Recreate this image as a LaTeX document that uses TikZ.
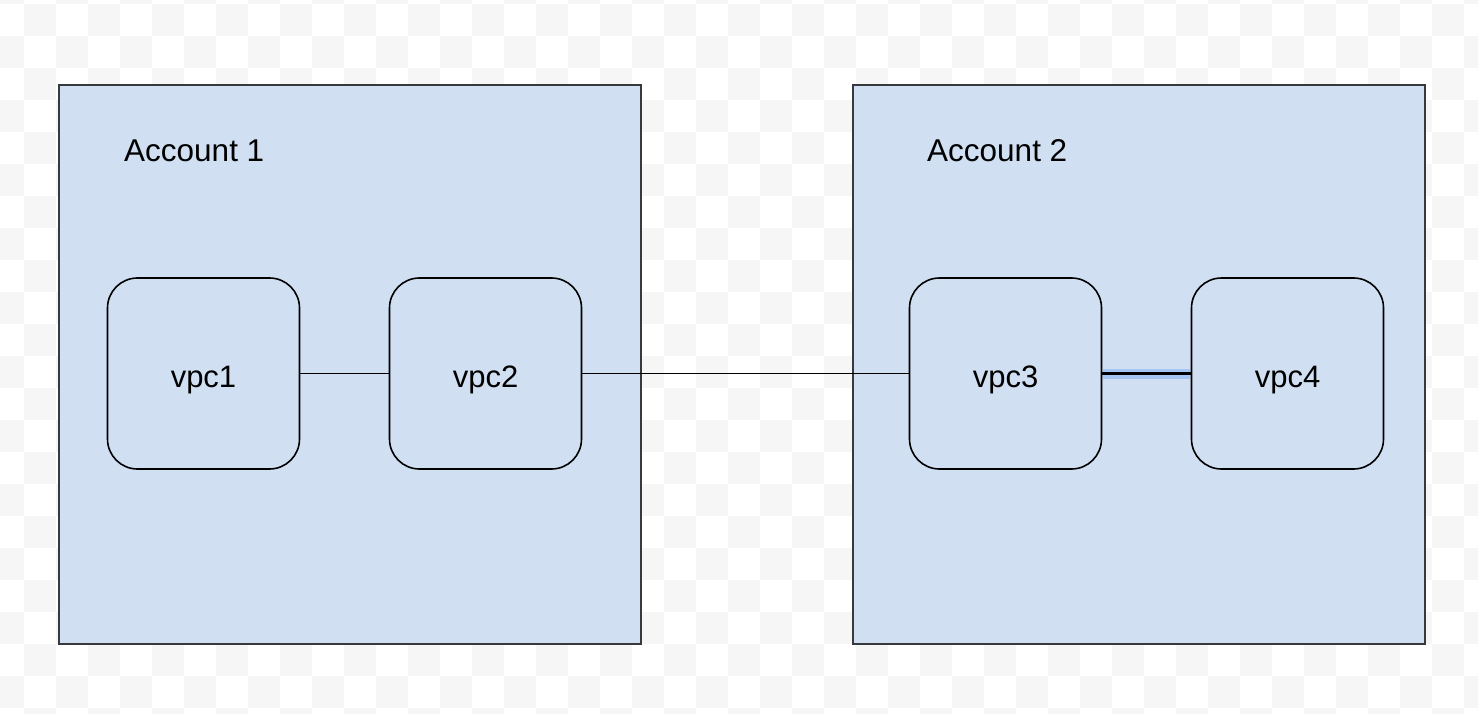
\documentclass[tikz,border=0pt]{standalone}
\usepackage{fontspec}
\setmainfont{Liberation Sans}
\usetikzlibrary{calc}
\definecolor{boxfill}{RGB}{208,224,242}
\definecolor{acctline}{RGB}{54,57,61}
\definecolor{checker}{RGB}{246,246,246}
\definecolor{selblue}{RGB}{164,198,245}
\tikzset{
  acct/.style={draw=acctline, line width=2pt, fill=boxfill, inner sep=0pt, anchor=north west},
  acctlabel/.style={anchor=base west, inner sep=0pt, font=\fontsize{31.5}{37}\selectfont},
  vpc/.style={draw=black, line width=1.6pt, fill=boxfill, rounded corners=30pt,
    minimum width=192pt, minimum height=191pt, inner sep=0pt,
    text height=27pt, text depth=0pt, font=\fontsize{31}{37}\selectfont},
  link/.style={draw=black, line width=1.6pt},
}
\begin{document}
\begin{tikzpicture}[x=1pt,y=-1pt]
\useasboundingbox (0,0) rectangle (1478,714);
% transparency checkerboard
\fill[white] (0,0) rectangle (1478,714);
\foreach \i in {0,...,47}{
  \foreach \j in {0,...,23}{
    \pgfmathtruncatemacro{\myparity}{mod(\i+\j,2)}
    \ifnum\myparity=0
      \fill[checker] ({-8+32*\i},{-28+32*\j}) rectangle ({24+32*\i},{4+32*\j});
    \fi
  }
}
% accounts
\node[acct, minimum width=582pt, minimum height=559pt] (a1) at (58,84) {};
\node[acct, minimum width=572pt, minimum height=559pt] (a2) at (852,84) {};
\node[acctlabel] (l1) at (124,162) {Account 1};
\node[acctlabel] (l2) at (927,162) {Account 2};
% vpcs
\node[vpc] (v1) at (203.5,373.5) {vpc1};
\node[vpc] (v2) at (485.5,373.5) {vpc2};
\node[vpc] (v3) at (1005.5,373.5) {vpc3};
\node[vpc] (v4) at (1287.5,373.5) {vpc4};
% links
\draw[link] (v1) -- (v2);
\draw[link] (v2) -- (v3);
\fill[selblue] ($(v3.east)+(0.8,-5)$) rectangle ($(v4.west)+(-0.8,5)$);
\draw[link, line width=2.4pt] (v3) -- (v4);
\end{tikzpicture}
\end{document}
